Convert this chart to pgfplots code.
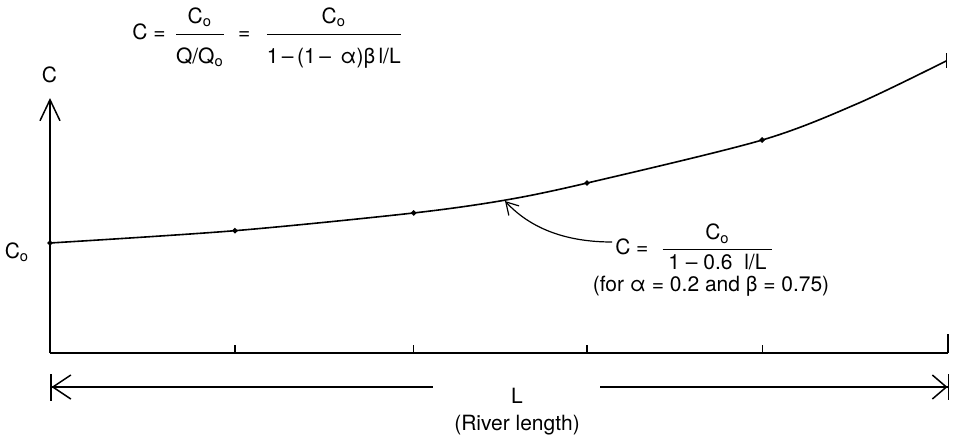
\documentclass[border=0pt]{standalone}
\usepackage{fontspec}
\setmainfont{TeX Gyre Heros}
\usepackage{amsmath}
\usepackage{pgfplots}
\pgfplotsset{compat=1.18}
\usetikzlibrary{arrows.meta}

% C/C_o against l/L
\pgfplotstableread{
x     y
0.000 1.000
0.206 1.112
0.405 1.273
0.507 1.390
0.598 1.545
0.793 1.936
0.900 2.270
0.998 2.655
}\curvedata

\newcommand{\num}[2][4pt]{#2\rule[-#1]{0pt}{0pt}}
\newcommand{\den}[2][13pt]{\rule{0pt}{#1}#2}

\begin{document}
\fontsize{10.5}{12.6}\selectfont
\begin{tikzpicture}
\path[use as bounding box] (-25pt,-40.5pt) rectangle (454pt,176.5pt);
\begin{axis}[
  at={(0,0)}, anchor=origin,
  x=449pt, y=55pt,
  xmin=0, xmax=1, ymin=0, ymax=2.318,
  axis lines=left,
  axis line style={line width=0.75pt},
  x axis line style={-},
  y axis line style={-{Straight Barb[length=10.5pt,width=10pt,line width=0.75pt]}},
  xtick={0.206,0.405,0.598,0.793}, xticklabels={},
  ytick=\empty,
  tick align=inside,
  major tick length=4pt,
  tick style={line width=0.6pt, black},
  extra x ticks={1}, extra x tick labels={},
  extra x tick style={major tick length=9.5pt},
  clip=false,
]
  \addplot[black, line width=0.8pt, smooth, mark=*, mark size=0.9pt,
           mark indices={1,2,3,5,6}] table {\curvedata};
  \addplot[only marks, mark=|, mark size=3.75pt,
           mark options={line width=0.6pt}] coordinates {(0.998,2.655)};
\end{axis}
% annotations, in pixel units of the reference
\begin{scope}[x=0.5pt, y=-0.5pt, shift={(-25pt,176.5pt)}]
  \node[anchor=west, inner sep=0pt] at (132,38)
    {$\text{C =}\hspace{4pt}\dfrac{\num{\text{C}_\text{o}}}{\den{\text{Q/Q}_\text{o}}}\hspace{6pt}\text{=}\hspace{7pt}
      \dfrac{\num{\text{C}_\text{o}}}{\den{\text{1\,–\,(1\,–\ \,α)β\,l/L}}}$};
  \node at (49.5,75) {C};
  \node at (17,252) {C\textsubscript{o}};
  \node[anchor=center, inner sep=0pt] at (695,247)
    {$\text{C =}\ \ \dfrac{\num[3pt]{\text{C}_\text{o}}}{\text{\ 1 – 0.6\ \ l/L\ }}$};
  \node at (711,286) {(for α = 0.2 and β = 0.75)};
  \draw[line width=0.6pt, -{Straight Barb[length=6pt,width=7pt]}]
    (612,242) .. controls (565,242) and (530,228) .. (505,201);
  \draw[line width=0.75pt,
        {Bar[width=13.5pt,sep=0pt]Straight Barb[length=9pt,width=12pt]}-]
    (50,387) -- (433,387);
  \draw[line width=0.75pt,
        -{Straight Barb[length=7pt,width=12pt,sep=0pt]Bar[width=13pt]}]
    (600,387) -- (949,387);
  \node at (517,396) {L};
  \node at (517,425) {(River length)};
\end{scope}
\end{tikzpicture}
\end{document}
